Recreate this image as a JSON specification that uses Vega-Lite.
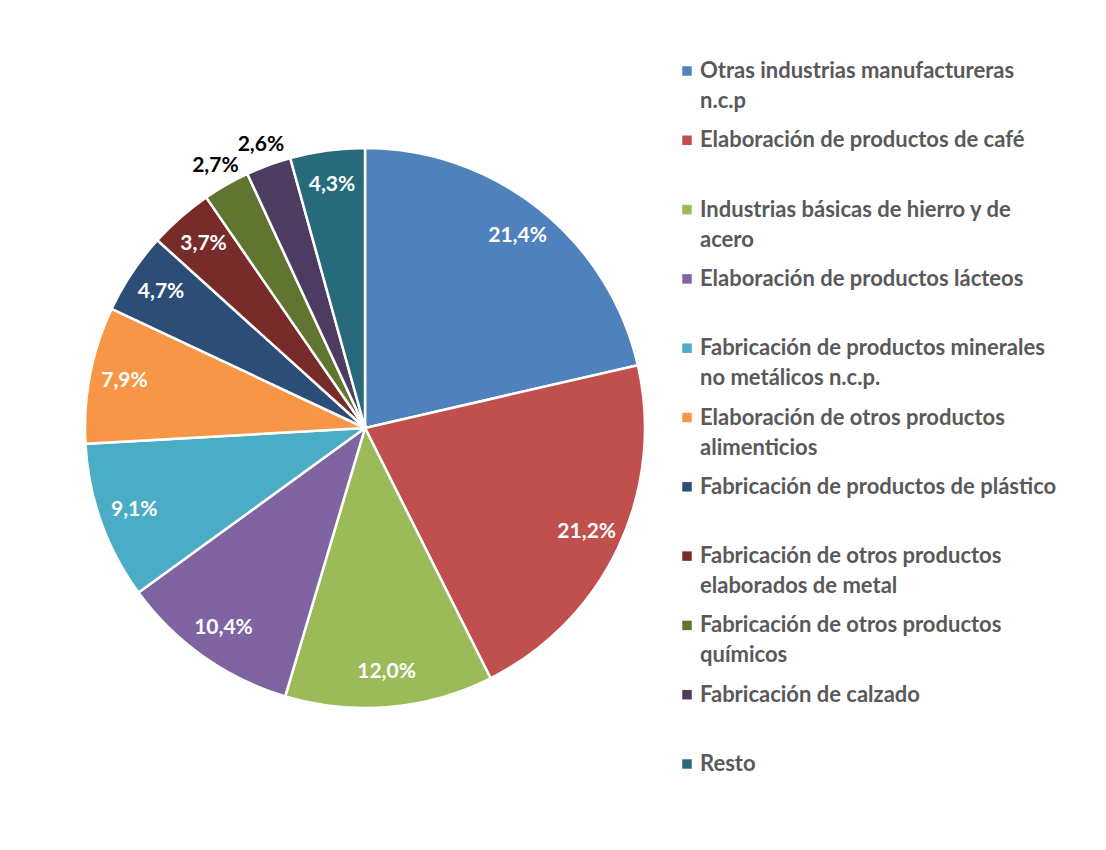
{
  "$schema": "https://vega.github.io/schema/vega-lite/v6.json",
  "autosize": "none",
  "width": 560,
  "height": 560,
  "padding": {"left": 85, "top": 148, "right": 461, "bottom": 142},
  "background": "white",
  "data": {
    "values": [
      {"category": "Otras industrias manufactureras n.c.p", "value": 0.214, "order": 1},
      {"category": "Elaboración de productos de café", "value": 0.212, "order": 2},
      {"category": "Industrias básicas de hierro y de acero", "value": 0.12, "order": 3},
      {"category": "Elaboración de productos lácteos", "value": 0.104, "order": 4},
      {"category": "Fabricación de productos minerales no metálicos n.c.p.", "value": 0.091, "order": 5},
      {"category": "Elaboración de otros productos alimenticios", "value": 0.079, "order": 6},
      {"category": "Fabricación de productos de plástico", "value": 0.047, "order": 7},
      {"category": "Fabricación de otros productos elaborados de metal", "value": 0.037, "order": 8},
      {"category": "Fabricación de otros productos químicos", "value": 0.027, "order": 9},
      {"category": "Fabricación de calzado", "value": 0.026, "order": 10},
      {"category": "Resto", "value": 0.043, "order": 11}
    ]
  },
  "encoding": {
    "theta": {"field": "value", "type": "quantitative", "stack": true},
    "order": {"field": "order", "type": "quantitative"}
  },
  "layer": [
    {
      "mark": {"type": "arc", "outerRadius": 280, "stroke": "white", "strokeWidth": 2.5},
      "encoding": {
        "color": {
          "field": "category",
          "type": "nominal",
          "scale": {
            "domain": [
              "Otras industrias manufactureras n.c.p",
              "Elaboración de productos de café",
              "Industrias básicas de hierro y de acero",
              "Elaboración de productos lácteos",
              "Fabricación de productos minerales no metálicos n.c.p.",
              "Elaboración de otros productos alimenticios",
              "Fabricación de productos de plástico",
              "Fabricación de otros productos elaborados de metal",
              "Fabricación de otros productos químicos",
              "Fabricación de calzado",
              "Resto"
            ],
            "range": ["#4F81BD", "#C0504D", "#9BBB59", "#8064A2", "#4BACC6", "#F79646", "#2C4D75", "#772C2A", "#5F7530", "#4D3B62", "#276A7C"]
          },
          "legend": {
            "title": null,
            "orient": "none",
            "legendX": 591,
            "legendY": -88,
            "padding": 0,
            "symbolType": "square",
            "symbolSize": 90,
            "symbolStrokeWidth": 0,
            "symbolOpacity": 1,
            "labelFont": "Lato",
            "labelFontWeight": "bold",
            "labelFontSize": 22,
            "labelColor": "#595959",
            "labelLimit": 600,
            "labelOffset": 2,
            "labelBaseline": "middle",
            "rowPadding": 17.3,
            "labelExpr": "datum.label == 'Otras industrias manufactureras n.c.p' ? ['Otras industrias manufactureras', 'n.c.p'] : datum.label == 'Industrias básicas de hierro y de acero' ? ['Industrias básicas de hierro y de', 'acero'] : datum.label == 'Fabricación de productos minerales no metálicos n.c.p.' ? ['Fabricación de productos minerales', 'no metálicos n.c.p.'] : datum.label == 'Elaboración de otros productos alimenticios' ? ['Elaboración de otros productos', 'alimenticios'] : datum.label == 'Fabricación de otros productos elaborados de metal' ? ['Fabricación de otros productos', 'elaborados de metal'] : datum.label == 'Fabricación de otros productos químicos' ? ['Fabricación de otros productos', 'químicos'] : [datum.label, ' ']"
          }
        }
      }
    },
    {
      "mark": {"type": "text", "radius": 245, "font": "Lato", "fontWeight": "bold", "fontSize": 21, "fill": "white", "align": "center", "baseline": "middle"},
      "encoding": {
        "detail": {"field": "category", "type": "nominal"},
        "text": {"field": "value", "type": "quantitative", "format": ".1%", "condition": {"test": "datum.value < 0.03", "value": ""}}
      }
    },
    {
      "mark": {"type": "text", "radius": 302, "font": "Lato", "fontWeight": "bold", "fontSize": 21, "fill": "black", "align": "center", "baseline": "middle"},
      "encoding": {
        "detail": {"field": "category", "type": "nominal"},
        "text": {"field": "value", "type": "quantitative", "format": ".1%", "condition": {"test": "datum.value >= 0.03", "value": ""}}
      }
    }
  ],
  "config": {
    "view": {"stroke": null},
    "locale": {"number": {"decimal": ",", "thousands": ".", "grouping": [3], "currency": ["", " €"]}},
    "style": {"guide-label": {"lineHeight": 30}}
  }
}
